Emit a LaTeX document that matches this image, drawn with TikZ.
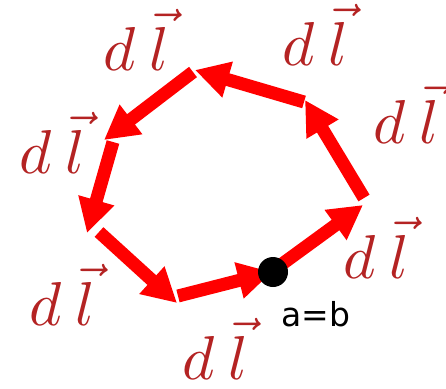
\documentclass[tikz,border=0pt]{standalone}
\usepackage{graphicx}
\usepackage{fontspec}
\newfontfamily\labfont{DejaVu Sans}
\usetikzlibrary{arrows.meta}
\definecolor{lblred}{RGB}{180,35,35}
\newcommand{\dlvec}{\scalebox{6.2}{$d\:\vec{l}$}}
\tikzset{
  vec/.style={draw=red, line width=13pt, -{Triangle[length=34pt,width=35pt]}},
  dl/.style={text=lblred, inner sep=0pt},
}
\begin{document}
\begin{tikzpicture}[x=1pt,y=-1pt]
\useasboundingbox (0,0) rectangle (446,388);
\coordinate (s1) at (278,267); \coordinate (e1) at (363,205);
\coordinate (s2) at (364,198); \coordinate (e2) at (305,100);
\coordinate (s3) at (304,102); \coordinate (e3) at (195,70);
\coordinate (s4) at (193,72);  \coordinate (e4) at (104,140);
\coordinate (s5) at (113,142); \coordinate (e5) at (87,233);
\coordinate (s6) at (99,232);  \coordinate (e6) at (177,303);
\coordinate (s7) at (178,296); \coordinate (e7) at (272,272);
\draw[vec] (s1) -- (e1);
\draw[vec] (s2) -- (e2);
\draw[vec] (s3) -- (e3);
\draw[vec] (s4) -- (e4);
\draw[vec] (s5) -- (e5);
\draw[vec] (s6) -- (e6);
\draw[vec] (s7) -- (e7);
\node[circle, fill=black, minimum size=30pt, inner sep=0pt] (dot) at (273,272) {};
\node[font=\labfont\fontsize{33}{33}\selectfont, inner sep=0pt] (ab) at (316,314) {a=b};
\node[dl] (l1) at (136,40) {\dlvec};
\node[dl] (l2) at (315,35) {\dlvec};
\node[dl] (l3) at (406,113) {\dlvec};
\node[dl] (l4) at (52,143) {\dlvec};
\node[dl] (l5) at (62,295) {\dlvec};
\node[dl] (l6) at (215,349) {\dlvec};
\node[dl] (l7) at (376,248) {\dlvec};
\end{tikzpicture}
\end{document}
